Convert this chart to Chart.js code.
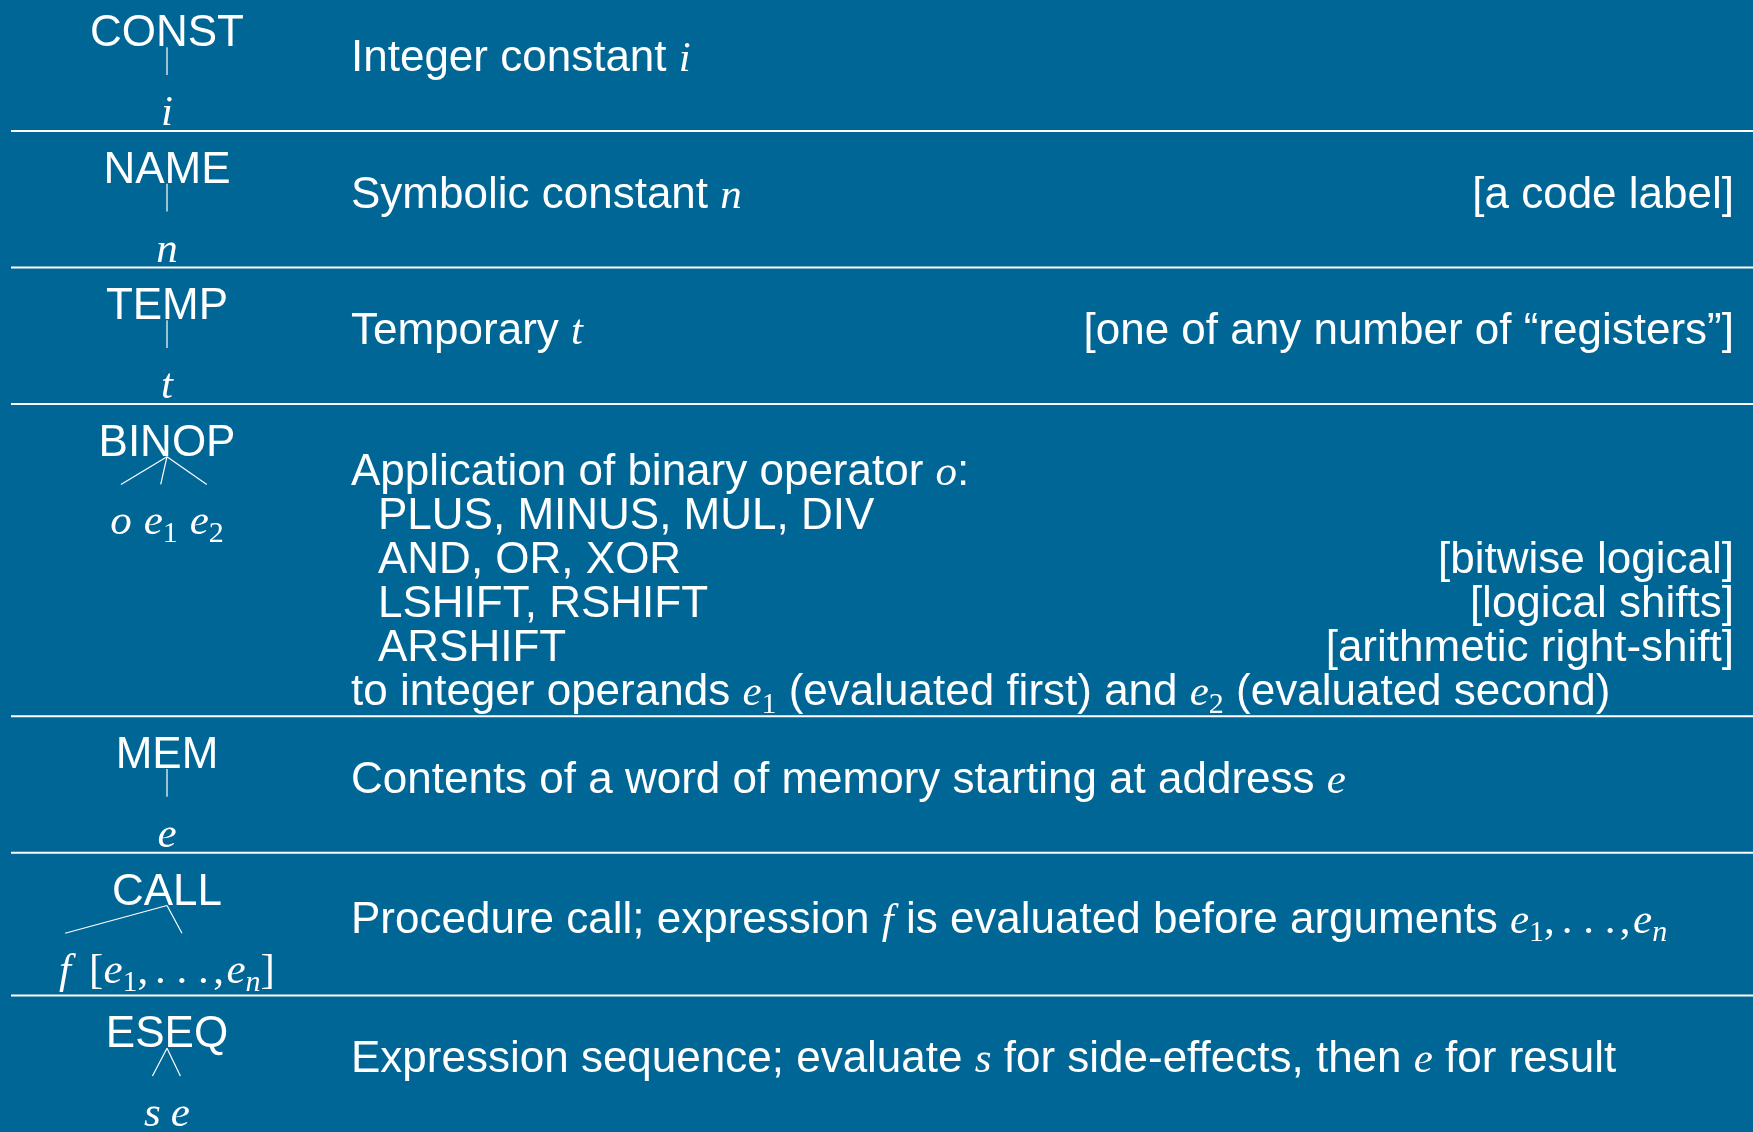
<!DOCTYPE html>
<html>
<head>
<meta charset="utf-8">
<title>Tree IR expressions</title>
<script src="https://cdn.jsdelivr.net/npm/chart.js@4.4.1/dist/chart.umd.min.js"></script>
<style>
  html, body { margin: 0; padding: 0; background: #006695; overflow: hidden; }
  #wrap { width: 1753px; height: 1132px; }
</style>
</head>
<body>
<div id="wrap"><canvas id="tree" width="1753" height="1132"></canvas></div>
<script>
// one row per IR expression form
const nodeNames = ["CONST", "NAME", "TEMP", "BINOP", "MEM", "CALL", "ESEQ"];
const nodeChildren = [["$i$"], ["$n$"], ["$t$"], ["$o$", "$e_1$", "$e_2$"], ["$e$"], ["$f$", "$[e_1,…,e_n]$"], ["$s$", "$e$"]];
const descriptions = [
  "Integer constant $i$",
  "Symbolic constant $n$",
  "Temporary $t$",
  "Application of binary operator $o$:",
  "Contents of a word of memory starting at address $e$",
  "Procedure call; expression $f$ is evaluated before arguments $e_1,…,e_n$",
  "Expression sequence; evaluate $s$ for side-effects, then $e$ for result"
];
const notes = ["", "[a code label]", "[one of any number of “registers”]", "", "", "", ""];
const binopOperators = ["PLUS, MINUS, MUL, DIV", "AND, OR, XOR", "LSHIFT, RSHIFT", "ARSHIFT"];
const binopNotes = ["", "[bitwise logical]", "[logical shifts]", "[arithmetic right-shift]"];
const binopTail = "to integer operands $e_1$ (evaluated first) and $e_2$ (evaluated second)";

// ---- layout / style ----
const BG = "#006695";
const FG = "#ffffff";
const FS = 44;          // sans text size
const MS = 43;          // math size
const SUB = 30;         // subscript size
const SUB_DY = 8;
const SANS = "'Liberation Sans', Arial, Helvetica, sans-serif";
const SERIF = "'Liberation Serif', 'Times New Roman', serif";

// row heights in text-line units (BINOP holds the operator list)
const rowUnits = [3, 3, 3, 6.87, 3, 3.14, 3];
const rowTops = [];
rowUnits.reduce((acc, h) => { rowTops.push(acc); return acc + h; }, 0);
const Y_MIN = 0.119, Y_MAX = 25.01;

const LABEL_X = 167, DESC_X = 351, INDENT_X = 378, NOTE_X = 1734;
const RULE_X0 = 11, RULE_X1 = 1753;
const childGap = [0, 0, 0, 12, 0, 18, 10];

const LABEL_BASE = 1.14, APEX = 1.16, EDGE_END = 1.77, CHILD_BASE = 2.87;
const BINOP_LINE0 = 1.786, BINOP_STEP = 0.968;

// tiny "$math$" parser: italic letters, roman digits/punctuation, _x subscripts
function parseRich(str) {
  const runs = [];
  str.split("$").forEach((part, k) => {
    if (!part) return;
    if (k % 2 === 0) { runs.push({ t: part, kind: "sans" }); return; }
    for (let i = 0; i < part.length; i++) {
      const c = part[i];
      if (c === "_") {
        const s = part[++i];
        runs.push({ t: s, kind: /\d/.test(s) ? "subR" : "subI" });
      } else if (c === "…") {
        runs.push({ t: "…", kind: "dots" });
      } else if (c === ",") {
        runs.push({ t: ",", kind: "rom" });
        runs.push({ t: "", kind: "thin" });
      } else if (/[A-Za-z]/.test(c)) {
        runs.push({ t: c, kind: "ital" });
      } else {
        runs.push({ t: c, kind: "rom" });
      }
    }
  });
  return runs;
}

function runFont(kind) {
  switch (kind) {
    case "sans": return FS + "px " + SANS;
    case "ital": return "italic " + MS + "px " + SERIF;
    case "subR": return SUB + "px " + SERIF;
    case "subI": return "italic " + SUB + "px " + SERIF;
    default: return MS + "px " + SERIF;
  }
}

function runWidth(ctx, r) {
  if (r.kind === "thin") return MS * 0.06;
  if (r.kind === "dots") return MS * 1.45;
  ctx.font = runFont(r.kind);
  return ctx.measureText(r.t).width;
}

function richWidth(ctx, runs) {
  return runs.reduce((s, r) => s + runWidth(ctx, r), 0);
}

function drawRich(ctx, runs, x, y) {
  runs.forEach((r) => {
    const w = runWidth(ctx, r);
    if (r.kind === "dots") {
      ctx.font = runFont("rom");
      for (let k = 0; k < 3; k++) ctx.fillText(".", x + MS * (0.1 + 0.5 * k), y);
    } else if (r.kind !== "thin") {
      ctx.font = runFont(r.kind);
      const dy = (r.kind === "subR" || r.kind === "subI") ? SUB_DY : 0;
      ctx.fillText(r.t, x, y + dy);
    }
    x += w;
  });
}

// place the children of each node centred under it
const measureCtx = document.createElement("canvas").getContext("2d");
const childLayout = nodeChildren.map((kids, i) => {
  const runs = kids.map(parseRich);
  const widths = runs.map((r) => richWidth(measureCtx, r));
  const total = widths.reduce((a, b) => a + b, 0) + childGap[i] * (kids.length - 1);
  let x = LABEL_X - total / 2;
  return runs.map((r, k) => {
    const item = { runs: r, x: x, cx: x + widths[k] / 2 };
    x += widths[k] + childGap[i];
    return item;
  });
});

// datasets: tree edges + row separators
const datasets = [];
nodeNames.forEach((name, i) => {
  childLayout[i].forEach((ch) => {
    datasets.push({
      data: [{ x: LABEL_X, y: rowTops[i] + APEX }, { x: ch.cx, y: rowTops[i] + EDGE_END }],
      showLine: true, borderColor: FG, borderWidth: 1.2, pointRadius: 0
    });
  });
  if (i > 0) {
    datasets.push({
      data: [{ x: RULE_X0, y: rowTops[i] }, { x: RULE_X1, y: rowTops[i] }],
      showLine: true, borderColor: FG, borderWidth: 2, pointRadius: 0
    });
  }
});

const bgPlugin = {
  id: "bg",
  beforeDraw(chart) {
    const ctx = chart.ctx;
    ctx.save();
    ctx.fillStyle = BG;
    ctx.fillRect(0, 0, chart.width, chart.height);
    ctx.restore();
  }
};

const textPlugin = {
  id: "irText",
  afterDatasetsDraw(chart) {
    const ctx = chart.ctx;
    const xs = chart.scales.x, ys = chart.scales.y;
    ctx.save();
    ctx.fillStyle = FG;
    ctx.textBaseline = "alphabetic";
    nodeNames.forEach((name, i) => {
      const top = rowTops[i];
      ctx.font = runFont("sans");
      ctx.textAlign = "center";
      ctx.fillText(name, xs.getPixelForValue(LABEL_X), ys.getPixelForValue(top + LABEL_BASE));
      ctx.textAlign = "left";
      childLayout[i].forEach((ch) => {
        drawRich(ctx, ch.runs, xs.getPixelForValue(ch.x), ys.getPixelForValue(top + CHILD_BASE));
      });

      if (name === "BINOP") {
        const lines = [{ t: descriptions[i], x: DESC_X, note: "" }];
        binopOperators.forEach((op, k) => lines.push({ t: op, x: INDENT_X, note: binopNotes[k] }));
        lines.push({ t: binopTail, x: DESC_X, note: "" });
        lines.forEach((ln, k) => {
          const yy = ys.getPixelForValue(top + BINOP_LINE0 + k * BINOP_STEP);
          drawRich(ctx, parseRich(ln.t), xs.getPixelForValue(ln.x), yy);
          if (ln.note) {
            const nr = parseRich(ln.note);
            drawRich(ctx, nr, xs.getPixelForValue(NOTE_X) - richWidth(ctx, nr), yy);
          }
        });
      } else {
        const yy = ys.getPixelForValue(top + rowUnits[i] / 2 + 0.19);
        drawRich(ctx, parseRich(descriptions[i]), xs.getPixelForValue(DESC_X), yy);
        if (notes[i]) {
          const nr = parseRich(notes[i]);
          drawRich(ctx, nr, xs.getPixelForValue(NOTE_X) - richWidth(ctx, nr), yy);
        }
      }
    });
    ctx.restore();
  }
};

new Chart(document.getElementById("tree"), {
  type: "scatter",
  data: { datasets: datasets },
  options: {
    responsive: false,
    animation: false,
    devicePixelRatio: 1,
    layout: { padding: 0 },
    plugins: { legend: { display: false }, tooltip: { enabled: false } },
    scales: {
      x: { type: "linear", display: false, min: 0, max: 1753 },
      y: { type: "linear", display: false, min: Y_MIN, max: Y_MAX, reverse: true }
    }
  },
  plugins: [bgPlugin, textPlugin]
});
</script>
</body>
</html>
